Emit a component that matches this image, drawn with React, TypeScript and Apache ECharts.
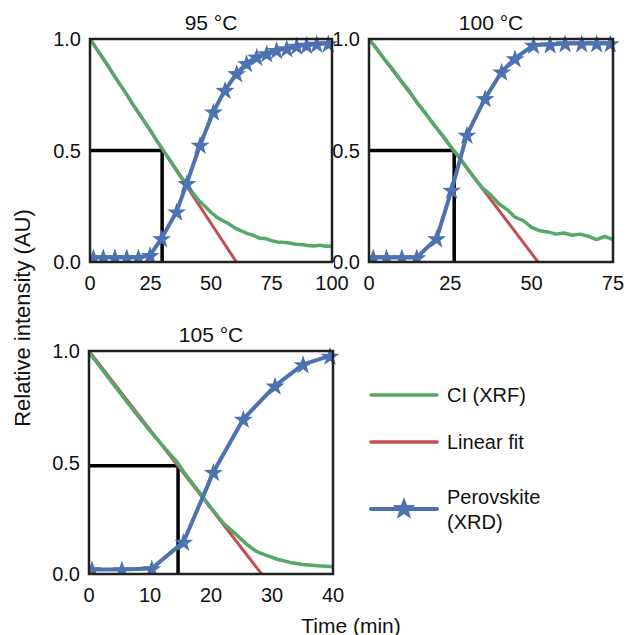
import React, { useEffect, useRef } from "react";
import * as echarts from "echarts";

// ---- data ----
const panelTitles = ["95 °C", "100 °C", "105 °C"];
const xMax = [100, 75, 40];
const xInterval = [25, 25, 10];

// CI (XRF) green
const ci95: [number, number][] = [
  [0, 1.0], [2.5, 0.96], [5, 0.92], [7.5, 0.88], [10, 0.835], [12.5, 0.795], [15, 0.755],
  [17.5, 0.71], [20, 0.67], [22.5, 0.63], [25, 0.59], [27.5, 0.545], [30, 0.505], [32.5, 0.465],
  [35, 0.425], [37.5, 0.385], [40, 0.345], [42.5, 0.31], [45, 0.275], [47.5, 0.25], [50, 0.222],
  [52.5, 0.2], [55, 0.185], [57.5, 0.17], [60, 0.152], [62.5, 0.14], [65, 0.127], [67.5, 0.12],
  [70, 0.107], [72.5, 0.105], [75, 0.096], [77.5, 0.09], [80, 0.088], [82.5, 0.085], [85, 0.08],
  [87.5, 0.078], [90, 0.074], [92.5, 0.072], [95, 0.075], [97.5, 0.071], [100, 0.072],
];
const ci100: [number, number][] = [
  [0, 1.0], [2.5, 0.955], [5, 0.905], [7.5, 0.86], [10, 0.81], [12.5, 0.765], [15, 0.71],
  [17.5, 0.665], [20, 0.615], [22.5, 0.57], [25, 0.52], [27.5, 0.475], [30, 0.425], [32.5, 0.375],
  [35, 0.33], [37.5, 0.3], [40, 0.26], [42.5, 0.235], [45, 0.2], [47.5, 0.185], [50, 0.155],
  [52.5, 0.14], [55, 0.135], [57.5, 0.125], [60, 0.13], [62.5, 0.12], [65, 0.125], [67.5, 0.115],
  [70, 0.1], [72.5, 0.115], [75, 0.1],
];
const ci105: [number, number][] = [
  [0, 1.0], [0.5, 0.975], [1.2, 0.952], [2.5, 0.905], [5, 0.815], [7.5, 0.727], [10, 0.642],
  [12.5, 0.562], [14.5, 0.5], [16, 0.44], [18, 0.37], [20, 0.297], [22, 0.228], [24, 0.18],
  [26, 0.13], [27.5, 0.1], [29, 0.085], [31, 0.065], [33, 0.052], [35, 0.043], [37.5, 0.037],
  [40, 0.033],
];

// Linear fit (red)
const fit95: [number, number][] = [[0, 1], [60.5, 0]];
const fit100: [number, number][] = [[0, 1], [52, 0]];
const fit105: [number, number][] = [[0, 1], [28.3, 0]];

// Perovskite (XRD) blue stars
const xrd95: [number, number][] = [
  [1.4, 0.02], [5.5, 0.02], [10.3, 0.02], [15.2, 0.02], [20, 0.02], [24.8, 0.03], [29.6, 0.106],
  [35.8, 0.226], [40, 0.353], [45.5, 0.525], [51, 0.674], [55.8, 0.771], [60.6, 0.846],
  [64.7, 0.891], [68.9, 0.92], [73, 0.935], [77.1, 0.95], [81.3, 0.958], [85.4, 0.969],
  [89.5, 0.973], [93.7, 0.978], [98.5, 0.98],
];
const xrd100: [number, number][] = [
  [1.3, 0.02], [5.4, 0.02], [10.1, 0.02], [14.7, 0.02], [20.8, 0.106], [25.4, 0.323],
  [30.1, 0.57], [35.7, 0.734], [40.8, 0.853], [44.9, 0.913], [50.6, 0.973], [55.7, 0.975],
  [60.3, 0.98], [65.4, 0.98], [70, 0.98], [74.2, 0.98],
];
const xrd105: [number, number][] = [
  [0.5, 0.02], [5.4, 0.02], [10.3, 0.025], [15.5, 0.144], [20.4, 0.457], [25.3, 0.695],
  [30.5, 0.844], [35.1, 0.94], [39.5, 0.978],
];

// Half-time guide lines (black)
const guide95: [number, number][] = [[0, 0.5], [29.8, 0.5], [29.8, 0]];
const guide100: [number, number][] = [[0, 0.5], [26.2, 0.5], [26.2, 0]];
const guide105: [number, number][] = [[0, 0.485], [14.6, 0.485], [14.6, 0]];

const yTicks = [0, 0.5, 1.0];
const legendLabels = ["CI (XRF)", "Linear fit", "Perovskite\n(XRD)"];

// ---- styles ----
const GREEN = "#55a868";
const RED = "#c44e52";
const BLUE = "#4c72b0";
const FONT = "Liberation Sans, Arial, Helvetica, sans-serif";
const FS = 20;
const STAR =
  "path://M50,0 L61.8,35.1 L98.9,35.4 L69.1,57.6 L80.2,93.1 L50,71.7 L19.8,93.1 L30.9,57.6 L1.1,35.4 L38.2,35.1 Z";

function starPoints(cx: number, cy: number, r: number) {
  const pts: number[][] = [];
  for (let i = 0; i < 10; i++) {
    const rr = i % 2 === 0 ? r : r * 0.42;
    const a = -Math.PI / 2 + (i * Math.PI) / 5;
    pts.push([cx + rr * Math.cos(a), cy + rr * Math.sin(a)]);
  }
  return pts;
}

export default function App() {
  const ref = useRef<HTMLDivElement>(null);
  useEffect(() => {
    document.body.style.margin = "0";
    const chart = echarts.init(ref.current!, null, { renderer: "svg" });
    const grids = [
      { left: 90, top: 39, width: 242, height: 223 },
      { left: 369, top: 39, width: 244, height: 223 },
      { left: 89, top: 351, width: 244, height: 223 },
    ];
    const ci = [ci95, ci100, ci105];
    const fit = [fit95, fit100, fit105];
    const xrd = [xrd95, xrd100, xrd105];
    const guide = [guide95, guide100, guide105];

    const series: any[] = [];
    for (let i = 0; i < 3; i++) {
      series.push({
        type: "line", name: "guide", xAxisIndex: i, yAxisIndex: i, data: guide[i],
        showSymbol: false, symbol: "none", lineStyle: { color: "#000", width: 3.5 }, z: 2,
      });
      series.push({
        type: "line", name: "Linear fit", xAxisIndex: i, yAxisIndex: i, data: fit[i],
        symbol: "none", lineStyle: { color: RED, width: 3 }, z: 3,
      });
      series.push({
        type: "line", name: "CI (XRF)", xAxisIndex: i, yAxisIndex: i, data: ci[i],
        symbol: "none", lineStyle: { color: GREEN, width: 3.5 }, z: 4,
      });
      series.push({
        type: "line", name: "Perovskite (XRD)", xAxisIndex: i, yAxisIndex: i, data: xrd[i],
        symbol: STAR, symbolKeepAspect: true, symbolSize: 19,
        itemStyle: { color: BLUE }, lineStyle: { color: BLUE, width: 4 }, z: 5,
      });
    }

    const graphic: any[] = [];
    // masks clipping star overflow at the bottom/left of each frame, and frames on top
    grids.forEach((g) => {
      graphic.push({
        type: "rect", z: 50, shape: { x: g.left - 2, y: g.top + g.height, width: g.width + 4, height: 9 },
        style: { fill: "#fff" },
      });
      graphic.push({
        type: "rect", z: 50, shape: { x: g.left - 7, y: g.top - 2, width: 7, height: g.height + 11 },
        style: { fill: "#fff" },
      });
      graphic.push({
        type: "rect", z: 60, shape: { x: g.left, y: g.top, width: g.width, height: g.height },
        style: { fill: "none", stroke: "#222", lineWidth: 2.5 },
      });
    });
    const titlePos = [[211, 22], [491, 22], [211, 334]];
    panelTitles.forEach((t, i) => {
      graphic.push({
        type: "text", x: titlePos[i][0], y: titlePos[i][1],
        style: { text: t, fill: "#111", font: `21px ${FONT}`, textAlign: "center", textVerticalAlign: "middle" },
      });
    });
    graphic.push({
      type: "text", x: 22, y: 318, rotation: Math.PI / 2,
      style: { text: "Relative intensity (AU)", fill: "#111", font: `22px ${FONT}`, textAlign: "center", textVerticalAlign: "middle" },
    });
    graphic.push({
      type: "text", x: 351, y: 625,
      style: { text: "Time (min)", fill: "#111", font: `21px ${FONT}`, textAlign: "center", textVerticalAlign: "middle" },
    });
    const legY = [395, 442, 509];
    const legColors = [GREEN, RED, BLUE];
    legendLabels.forEach((lab, i) => {
      graphic.push({
        type: "line", shape: { x1: 371, y1: legY[i], x2: 437, y2: legY[i] },
        style: { stroke: legColors[i], lineWidth: i === 2 ? 4 : 3.5, lineCap: "round" },
      });
      graphic.push({
        type: "text", x: 447, y: legY[i],
        style: { text: lab, fill: "#111", font: `${FS}px ${FONT}`, textAlign: "left", textVerticalAlign: "middle", lineHeight: 25 },
      });
    });
    graphic.push({
      type: "polygon", shape: { points: starPoints(404, 509, 12) }, style: { fill: BLUE },
    });

    chart.setOption({
      animation: false,
      backgroundColor: "#fff",
      grid: grids.map((g) => ({ ...g, show: false })),
      xAxis: [0, 1, 2].map((i) => ({
        type: "value", gridIndex: i, min: 0, max: xMax[i], interval: xInterval[i],
        axisLine: { show: false }, axisTick: { show: false }, splitLine: { show: false },
        axisLabel: { color: "#111", fontSize: FS, fontFamily: FONT, margin: 11 },
      })),
      yAxis: [0, 1, 2].map((i) => ({
        type: "value", gridIndex: i, min: yTicks[0], max: yTicks[yTicks.length - 1], interval: 0.5,
        axisLine: { show: false }, axisTick: { show: false }, splitLine: { show: false },
        axisLabel: { color: "#111", fontSize: FS, fontFamily: FONT, margin: 9, formatter: (v: number) => v.toFixed(1) },
      })),
      series,
      graphic,
    });
    return () => chart.dispose();
  }, []);
  return <div ref={ref} style={{ width: 627, height: 635 }} />;
}
